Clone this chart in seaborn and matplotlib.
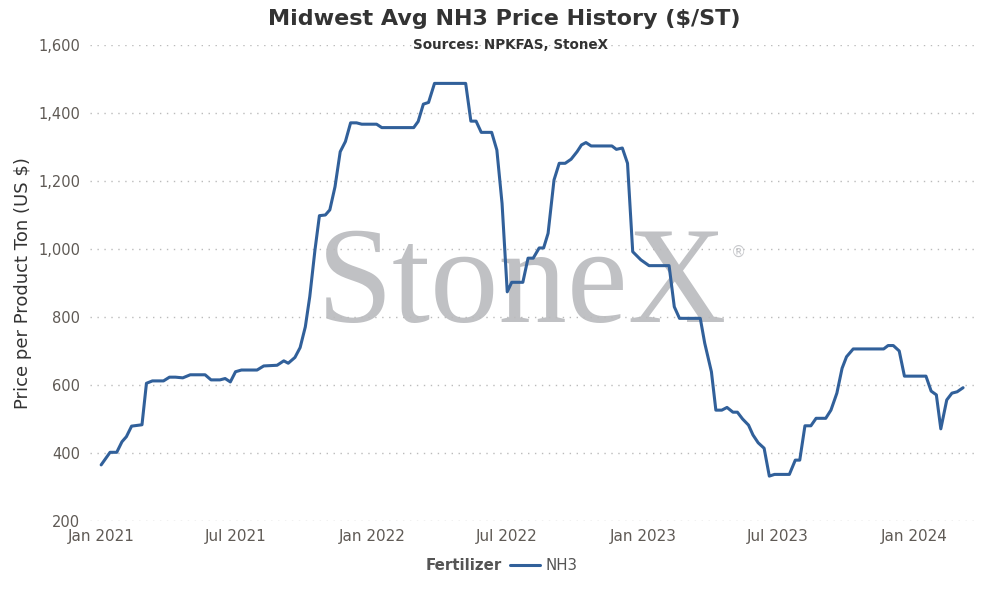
import pandas as pd
import numpy as np
import matplotlib.pyplot as plt
import matplotlib.dates as mdates
import seaborn as sns
from matplotlib.lines import Line2D

sns.set_theme(style="white")
plt.rcParams['font.family'] = ['DejaVu Sans']

# NH3 price path (vertices)
dates = [
    "2021-01-01", "2021-01-13", "2021-01-22", "2021-01-29", "2021-02-04", "2021-02-11",
    "2021-02-25", "2021-03-03", "2021-03-11", "2021-03-26", "2021-04-03", "2021-04-11",
    "2021-04-21", "2021-05-01", "2021-05-21", "2021-05-29", "2021-06-10", "2021-06-17",
    "2021-06-24", "2021-07-01", "2021-07-09", "2021-07-30", "2021-08-08", "2021-08-26",
    "2021-09-04", "2021-09-10", "2021-09-19", "2021-09-26", "2021-10-03", "2021-10-09",
    "2021-10-16", "2021-10-22", "2021-10-30", "2021-11-05", "2021-11-12", "2021-11-19",
    "2021-11-26", "2021-12-03", "2021-12-11", "2021-12-18", "2022-01-07", "2022-01-14",
    "2022-02-26", "2022-03-04", "2022-03-11", "2022-03-18", "2022-03-26", "2022-05-07",
    "2022-05-14", "2022-05-21", "2022-05-28", "2022-06-11", "2022-06-18", "2022-06-25",
    "2022-07-02", "2022-07-08", "2022-07-23", "2022-07-30", "2022-08-06", "2022-08-14",
    "2022-08-20", "2022-08-26", "2022-09-03", "2022-09-10", "2022-09-18", "2022-09-26",
    "2022-10-04", "2022-10-10", "2022-10-16", "2022-10-23", "2022-11-20", "2022-11-26",
    "2022-12-04", "2022-12-11", "2022-12-18", "2022-12-29", "2023-01-09", "2023-02-05",
    "2023-02-12", "2023-02-19", "2023-03-19", "2023-03-25", "2023-04-03", "2023-04-09",
    "2023-04-17", "2023-04-24", "2023-05-02", "2023-05-08", "2023-05-15", "2023-05-23",
    "2023-05-29", "2023-06-05", "2023-06-13", "2023-06-20", "2023-06-27", "2023-07-17",
    "2023-07-25", "2023-07-31", "2023-08-07", "2023-08-15", "2023-08-22", "2023-09-04",
    "2023-09-11", "2023-09-19", "2023-09-26", "2023-10-02", "2023-10-11", "2023-11-21",
    "2023-11-27", "2023-12-04", "2023-12-12", "2023-12-19", "2024-01-17", "2024-01-24",
    "2024-01-31", "2024-02-06", "2024-02-14", "2024-02-21", "2024-02-28", "2024-03-07",
]
prices = [
    365, 402, 402, 433, 448, 479,
    483, 605, 612, 612, 623, 623,
    621, 630, 630, 615, 615, 619,
    609, 639, 644, 644, 656, 658,
    671, 664, 681, 710, 771, 860,
    997, 1098, 1100, 1115, 1183, 1286,
    1316, 1371, 1371, 1367, 1367, 1357,
    1357, 1375, 1426, 1431, 1487, 1487,
    1376, 1376, 1343, 1343, 1291, 1134,
    874, 902, 902, 973, 973, 1003,
    1003, 1046, 1203, 1252, 1252, 1264,
    1286, 1306, 1313, 1303, 1303, 1293,
    1297, 1252, 992, 968, 951, 951,
    830, 796, 796, 723, 639, 526,
    526, 534, 520, 520, 500, 482,
    453, 430, 414, 332, 337, 337,
    379, 379, 480, 480, 502, 502,
    526, 576, 649, 683, 706, 706,
    716, 716, 700, 626, 626, 582,
    571, 471, 556, 576, 580, 592,
]
y_ticks = [200, 400, 600, 800, 1000, 1200, 1400, 1600]

LINE_COLOR = '#31609a'
TEXT_DARK = '#333333'
TEXT_GREY = '#5f5a55'

df = pd.DataFrame({'date': pd.to_datetime(dates), 'price': prices, 'Fertilizer': 'NH3'})

fig = plt.figure(figsize=(9.86, 6.07), dpi=100)
ax = fig.add_axes([0.0913, 0.1417, 0.8975, 0.7842])

# watermark behind the line
ax.text(0.488, 0.487, "StoneX", transform=ax.transAxes, ha='center', va='center',
        fontsize=98.5, family='Liberation Serif', color='#c0c1c4', zorder=0)
ax.text(0.733, 0.564, "\u00ae", transform=ax.transAxes, ha='center', va='center',
        fontsize=11, color='#c8c9cc', zorder=0)

sns.lineplot(data=df, x='date', y='price', ax=ax, color=LINE_COLOR,
             linewidth=2.2, legend=False, zorder=3)

ax.set_ylim(200, 1600)
ax.set_yticks(y_ticks)
ax.set_yticklabels([f"{v:,}" for v in y_ticks])
ax.set_xlim(pd.Timestamp("2020-12-17"), pd.Timestamp("2024-03-23"))
ax.xaxis.set_major_locator(mdates.MonthLocator(bymonth=[1, 7]))
ax.xaxis.set_major_formatter(mdates.DateFormatter('%b %Y'))

ax.yaxis.grid(True, linestyle=(0, (1, 4)), color='#bbbbbb', linewidth=1)
ax.xaxis.grid(False)
sns.despine(ax=ax, left=True, bottom=True)
ax.tick_params(axis='both', length=0, labelcolor=TEXT_GREY)
ax.tick_params(axis='y', labelsize=10.5, pad=7)
ax.tick_params(axis='x', labelsize=11, pad=5.5)

ax.set_xlabel("")
ax.set_ylabel("Price per Product Ton (US $)", fontsize=13, color=TEXT_DARK)
ax.yaxis.set_label_coords(-0.066, 0.499)

fig.text(0.5117, 0.968, "Midwest Avg NH3 Price History ($/ST)", ha='center', va='center',
         fontsize=16, fontweight='bold', color=TEXT_DARK)
fig.text(0.518, 0.926, "Sources: NPKFAS, StoneX", ha='center', va='center',
         fontsize=9.75, fontweight='bold', color=TEXT_DARK)

# legend row: "Fertilizer  — NH3"
fig.text(0.509, 0.068, "Fertilizer", ha='right', va='center',
         fontsize=10.8, fontweight='bold', color='#555555')
handle = Line2D([], [], color=LINE_COLOR, linewidth=2.2)
fig.legend([handle], ["NH3"], loc='center left', bbox_to_anchor=(0.511, 0.068),
           frameon=False, fontsize=10.8, handlelength=2.0, handletextpad=0.4,
           labelcolor='#555555', borderaxespad=0)

fig.savefig("out.png", dpi=100)
